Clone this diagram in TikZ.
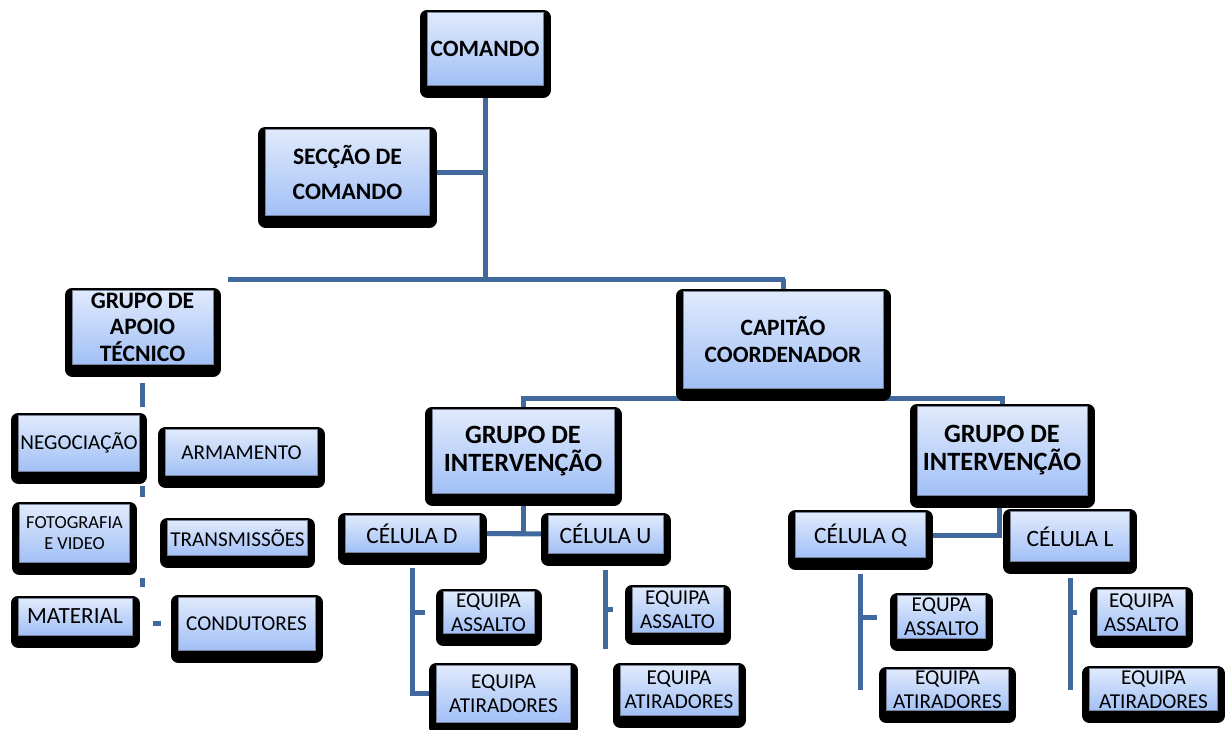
\documentclass[tikz,border=0pt]{standalone}
\usepackage{fontspec}
\setmainfont{Carlito}
\usepackage{xcolor}
\definecolor{org_line}{RGB}{65,105,158}
\definecolor{org_top}{RGB}{224,234,252}
\definecolor{org_bottom}{RGB}{162,192,246}
\definecolor{org_edge}{RGB}{118,128,150}
\usepackage{tikz}
\usetikzlibrary{backgrounds}

\tikzset{
  orgbox/.style={rectangle, inner sep=1pt, align=center,
    top color=org_top, bottom color=org_bottom, draw=org_edge, line width=0.5pt,
    preaction={draw=black, line width=7.5pt, line join=round, transform canvas={yshift=-2.5pt}}},
  boxsize/.style 2 args={minimum width=#1*0.5pt, minimum height=#2*0.5pt},
  headfont/.style={font=\bfseries\fontsize{11.7}{13.5}\selectfont},
  unitfont/.style={font=\fontsize{10.6}{12}\selectfont},
  cellfont/.style={font=\fontsize{11.7}{13}\selectfont},
  link/.style={draw=org_line, line width=2.5pt}
}

\begin{document}
\begin{tikzpicture}[x=0.5pt, y=-0.5pt]
        \useasboundingbox (0,0) rectangle (1227,729);

        % Command level
        \node[orgbox, headfont, boxsize={116}{73}] (cmd) at (485,48.5) {COMANDO};
        \node[orgbox, headfont, font=\bfseries\fontsize{11.8}{17.5}\selectfont, boxsize={164}{86}] (sec) at (347.5,172) {SECÇÃO DE\\COMANDO};
        \node[orgbox, headfont, font=\bfseries\fontsize{11.8}{13.3}\selectfont, boxsize={141}{74}] (gat) at (142.5,327) {GRUPO DE\\APOIO\\TÉCNICO};
        \node[orgbox, headfont, boxsize={200}{97}] (cap) at (783,339.5) {CAPITÃO\\COORDENADOR};
        \node[orgbox, headfont, font=\bfseries\fontsize{13.2}{14}\selectfont, boxsize={182}{84}] (gi1) at (523,451) {GRUPO DE\\INTERVENÇÃO};
        \node[orgbox, headfont, font=\bfseries\fontsize{13.2}{14}\selectfont, boxsize={170}{89}] (gi2) at (1002,450.5) {GRUPO DE\\INTERVENÇÃO};

        % Technical support
        \node[orgbox, unitfont, boxsize={121}{56}] (neg) at (79,443) {NEGOCIAÇÃO};
        \node[orgbox, unitfont, boxsize={152}{46}] (arm) at (241.5,452.5) {ARMAMENTO};
        \node[orgbox, unitfont, font=\fontsize{9.2}{10.5}\selectfont, boxsize={110}{58}] (foto) at (74.5,533.5) {FOTOGRAFIA\\E VIDEO};
        \node[orgbox, unitfont, boxsize={140}{35}] (trans) at (237.5,538) {TRANSMISSÕES};
        \node[orgbox, unitfont, font=\fontsize{11.6}{13}\selectfont, boxsize={114}{37}] (mat) at (75,616.5) {MATERIAL};
        \node[orgbox, unitfont, boxsize={137}{53}] (cond) at (246.5,623.5) {CONDUTORES};

        % Cells
        \node[orgbox, cellfont, boxsize={134}{37}] (celD) at (412,533.5) {CÉLULA D};
        \node[orgbox, cellfont, boxsize={115}{38}] (celU) at (605.5,534) {CÉLULA U};
        \node[orgbox, cellfont, boxsize={130}{45}] (celQ) at (860.5,535) {CÉLULA Q};
        \node[orgbox, cellfont, boxsize={119}{50}] (celL) at (1070,536.5) {CÉLULA L};

        % Teams
        \foreach \c/\x/\y/\w/\h/\t in {D/488.5/612.5/91/41/EQUIPA, U/677.5/609.5/91/45/EQUIPA,
                                       Q/941.5/617/88/43/EQUPA, L/1141.5/612.5/88/46/EQUIPA}
          { \node[orgbox, unitfont, boxsize={\w}{\h}] (ea\c) at (\x,\y) {\t\\ASSALTO}; }
        \foreach \c/\x/\y/\w/\h in {D/503.5/693.5/134/57, U/679/690/118/50,
                                    Q/947.5/690/122/41, L/1153.5/689.5/128/42}
          { \node[orgbox, unitfont, boxsize={\w}{\h}] (et\c) at (\x,\y) {EQUIPA\\ATIRADORES}; }

        \coordinate (barL) at (228,279);
        \coordinate (barR) at (785,279);
        \coordinate (capjoin) at (783,398);
        \coordinate (uend) at (605.5,649);

        \begin{scope}[on background layer]
          \draw[link] (barL) -- (barR);
          \draw[link] (cmd.south) -- (cmd.south |- barL);
          \draw[link] (sec.east) -- (sec.east -| cmd.south);
          \draw[link] (cap.north) -- (cap.north |- barR);
          \draw[link] (gi1.north) |- (capjoin) -| (gi2.north);

          % technical support column
          \draw[link, shorten <=9pt, shorten >=4pt] (gat.south) -- (gat.south |- neg.north);
          \draw[link, shorten <=7pt, shorten >=3.5pt] (gat.south |- neg.south) -- (gat.south |- foto.north);
          \draw[link, shorten <=7.5pt, shorten >=5.5pt] (gat.south |- foto.south) -- (gat.south |- mat.north);
          \draw[link, shorten <=10pt, shorten >=8.5pt] (cond.west -| mat.east) -- (cond.west);

          % cells
          \draw[link] (gi1.south) |- (celD.east);
          \draw[link] (celD.east) -- (celU.west);
          \draw[link] ([xshift=-1.5pt]gi2.south) |- (celQ.east);

          % team brackets
          \draw[link, shorten <=7.5pt] (celD.south) -- (celD.south |- etD.west) -- (etD.west);
          \draw[link, shorten >=9pt] (celD.south |- eaD.west) -- (eaD.west);
          \draw[link, shorten <=8pt] (celU.south) -- (uend);
          \draw[link, shorten >=9.5pt] (celU.south |- eaU.west) -- (eaU.west);
          \draw[link, shorten <=8pt] (celQ.south) -- (celQ.south |- etQ.west);
          \draw[link, shorten >=10pt] (celQ.south |- eaQ.west) -- (eaQ.west);
          \draw[link, shorten <=8pt] (celL.south) -- (celL.south |- etL.west);
          \draw[link, shorten >=10pt] (celL.south |- eaL.west) -- (eaL.west);
        \end{scope}
      \end{tikzpicture}
\end{document}
